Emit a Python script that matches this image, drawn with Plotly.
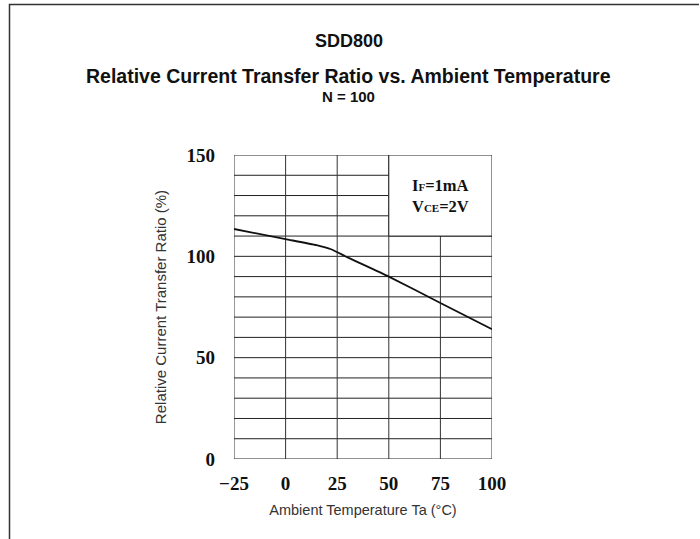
import plotly.graph_objects as go

# Data
temp_c = [-25, 0, 15, 22, 30, 50, 75, 100]
rel_ctr = [113.5, 108.5, 105.5, 103.5, 99.5, 90, 77, 64]

x_ticks = [-25, 0, 25, 50, 75, 100]
x_tick_labels = ["\u221225", "0", "25", "50", "75", "100"]
y_ticks = [0, 50, 100, 150]
y_tick_labels = ["0", "50", "100", "150"]
y_grid = list(range(0, 151, 10))

W, H = 700, 539
L, R, T, B = 234, 208, 155, 80
pw = W - L - R
ph = H - T - B

def py(y_px):
    return (H - B - y_px) / ph

def px(x_px):
    return (x_px - L) / pw

serif = "Liberation Serif"
sans = "Liberation Sans, Arial"

fig = go.Figure()

shapes = []
for g in y_grid:
    shapes.append(dict(type="line", xref="x", yref="y", x0=-25, x1=100, y0=g, y1=g,
                       line=dict(color="#222", width=1), layer="below"))
for g in x_ticks:
    shapes.append(dict(type="line", xref="x", yref="y", x0=g, x1=g, y0=0, y1=150,
                       line=dict(color="#333", width=1), layer="below"))
# white legend box in upper right
shapes.append(dict(type="rect", xref="x", yref="y", x0=50, x1=100, y0=110, y1=150,
                   fillcolor="white", line=dict(color="#222", width=1), layer="below"))
# outer frame lines
shapes.append(dict(type="path", xref="paper", yref="paper",
                   path=f"M {px(9.5)},{py(539)} L {px(9.5)},{py(4.5)} L {px(699)},{py(4.5)}",
                   line=dict(color="#333", width=1.5)))

fig.add_trace(go.Scatter(x=temp_c, y=rel_ctr, mode="lines", line_shape="spline",
                         line=dict(color="#111", width=1.8, smoothing=0.5), showlegend=False))

ann = [
    dict(text="<b>SDD800</b>", x=349, y=41, font=dict(size=18, family=sans)),
    dict(text="<b>Relative Current Transfer Ratio vs. Ambient Temperature</b>", x=348, y=76,
         font=dict(size=19.5, family=sans)),
    dict(text="<b>N = 100</b>", x=348, y=97, font=dict(size=15, family=sans)),
]
annotations = []
for a in ann:
    annotations.append(dict(text=a["text"], xref="paper", yref="paper",
                            x=px(a["x"]), y=py(a["y"]), showarrow=False,
                            xanchor="center", yanchor="middle", font=dict(color="#111", **a["font"])))
annotations.append(dict(
    text="<b>I<span style='font-size:11px'>F</span>=1mA<br>V<span style='font-size:11px'>CE</span>=2V</b>",
    xref="x", yref="y", x=75, y=130, showarrow=False, xanchor="center", yanchor="middle",
    align="left", font=dict(family=serif, size=16.5, color="#111", weight=700)))

fig.update_layout(
    width=W, height=H,
    margin=dict(l=L, r=R, t=T, b=B),
    paper_bgcolor="white", plot_bgcolor="white",
    shapes=shapes, annotations=annotations,
    xaxis=dict(range=[-25, 100], tickvals=x_ticks, ticktext=x_tick_labels, showgrid=False,
               zeroline=False, showline=False, ticks="", ticklabelstandoff=11,
               tickfont=dict(family=serif, size=19, color="#111", weight=700),
               title=dict(text="Ambient Temperature Ta (\u00b0C)", standoff=11,
                          font=dict(family=sans, size=14.5, color="#333"))),
    yaxis=dict(range=[0, 150], tickvals=y_ticks, ticktext=y_tick_labels, showgrid=False,
               zeroline=False, showline=False, ticks="", ticklabelstandoff=18,
               tickfont=dict(family=serif, size=19, color="#111", weight=700),
               title=dict(text="Relative Current Transfer Ratio (%)", standoff=16,
                          font=dict(family=sans, size=15, color="#333"))),
)

fig.write_html("out.html", config={"displayModeBar": False},
               post_script="document.body.style.margin='0';")
